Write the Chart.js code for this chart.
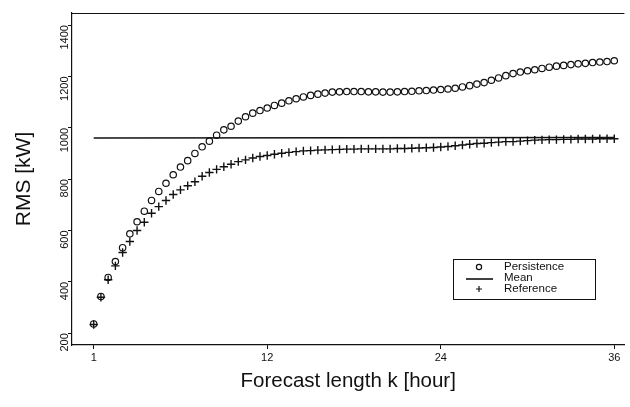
<!DOCTYPE html>
<html>
<head>
<meta charset="utf-8">
<script src="https://cdn.jsdelivr.net/npm/chart.js@4/dist/chart.umd.min.js"></script>
<style>
  html, body { margin: 0; padding: 0; background: #fff; }
  #wrap { width: 630px; height: 407px; }
</style>
</head>
<body>
<div id="wrap"><canvas id="rmsChart"></canvas></div>
<script>
// lag positions in hours, one point every half hour (first point labelled "1")
const lags = [];
for (let i = 0; i <= 72; i++) lags.push(i / 2);

const persistence = [
  236, 343, 417, 479, 533, 587, 634, 675, 717, 752,
  784, 817, 847, 872, 900, 926, 948, 971, 992, 1006,
  1026, 1043, 1057, 1067, 1077, 1087, 1096, 1105, 1113, 1120,
  1126, 1131, 1135, 1139, 1140, 1141, 1141, 1141, 1140, 1140,
  1139, 1139, 1140, 1141, 1142, 1144, 1145, 1147, 1149, 1151,
  1154, 1159, 1164, 1170, 1176, 1185, 1194, 1203, 1211, 1217,
  1222, 1226, 1231, 1236, 1240, 1243, 1246, 1249, 1251, 1254,
  1256, 1258, 1261
];

const reference = [
  234, 340, 408, 462, 514, 557, 600, 632, 667, 693,
  717, 740, 758, 774, 790, 811, 826, 838, 848, 858,
  868, 875, 882, 888, 892, 897, 901, 904, 907, 910,
  911, 913, 914, 915, 916, 917, 917, 918, 918, 918,
  918, 918, 919, 919, 920, 921, 922, 923, 925, 927,
  930, 933, 936, 939, 940, 942, 944, 946, 946, 948,
  950, 952, 953, 954, 954, 955, 955, 956, 956, 956,
  957, 957, 957
];

const meanLags = [0, 36];
const meanValues = [960, 962];

const xTicks = [0, 12, 24, 36];
const xTickLabels = ['1', '12', '24', '36'];
const yTicks = [200, 400, 600, 800, 1000, 1200, 1400];

const FONT = 'Liberation Sans, Arial, Helvetica, sans-serif';

const toPoints = (xs, ys) => xs.map((x, i) => ({ x: x, y: ys[i] }));

// top frame line and the boxed legend inside the plot
const framePlugin = {
  id: 'frame',
  afterDraw(chart) {
    const { ctx, chartArea } = chart;
    ctx.save();
    ctx.strokeStyle = '#111';
    ctx.lineWidth = 1.2;
    ctx.beginPath();
    ctx.moveTo(chartArea.left, chartArea.top + 0.5);
    ctx.lineTo(chartArea.right, chartArea.top + 0.5);
    ctx.stroke();

    // legend box
    const bx = chartArea.left + 381, by = chartArea.top + 246;
    const bw = 142, bh = 40;
    ctx.lineWidth = 1;
    ctx.strokeRect(bx + 0.5, by + 0.5, bw, bh);

    const names = ['Persistence', 'Mean', 'Reference'];
    const rows = [by + 8, by + 19, by + 30];
    const sx = bx + 26;
    ctx.font = '11.5px ' + FONT;
    ctx.fillStyle = '#111';
    ctx.textBaseline = 'middle';
    names.forEach((n, i) => ctx.fillText(n, bx + 51, rows[i]));

    ctx.lineWidth = 1.2;
    ctx.beginPath();
    ctx.arc(sx, rows[0], 2.6, 0, Math.PI * 2);
    ctx.stroke();
    ctx.lineWidth = 1.6;
    ctx.beginPath();
    ctx.moveTo(sx - 13, rows[1] + 1);
    ctx.lineTo(sx + 14, rows[1] + 1);
    ctx.stroke();
    ctx.lineWidth = 1.2;
    ctx.beginPath();
    ctx.moveTo(sx - 3, rows[2]);
    ctx.lineTo(sx + 3, rows[2]);
    ctx.moveTo(sx, rows[2] - 3);
    ctx.lineTo(sx, rows[2] + 3);
    ctx.stroke();
    ctx.restore();
  }
};

new Chart(document.getElementById('rmsChart'), {
  type: 'line',
  data: {
    datasets: [
      {
        label: 'Persistence',
        data: toPoints(lags, persistence),
        showLine: false,
        pointStyle: 'circle',
        pointRadius: 3.2,
        pointBorderWidth: 1.2,
        pointBorderColor: '#111',
        pointBackgroundColor: 'rgba(0,0,0,0)'
      },
      {
        label: 'Mean',
        data: toPoints(meanLags, meanValues),
        borderColor: '#111',
        borderWidth: 1.6,
        pointRadius: 0,
        fill: false
      },
      {
        label: 'Reference',
        data: toPoints(lags, reference),
        showLine: false,
        pointStyle: 'cross',
        pointRadius: 4.2,
        pointBorderWidth: 1.4,
        pointBorderColor: '#111'
      }
    ]
  },
  options: {
    responsive: true,
    maintainAspectRatio: false,
    animation: false,
    layout: { padding: { top: 13, right: 0, left: 12, bottom: 0 } },
    plugins: {
      legend: { display: false },
      tooltip: { enabled: false }
    },
    scales: {
      x: {
        type: 'linear',
        min: -1.5,
        max: 36.7,
        afterBuildTicks(scale) {
          scale.ticks = xTicks.map(v => ({ value: v }));
        },
        afterFit(scale) { scale.height = 62; },
        ticks: {
          color: '#111',
          font: { family: FONT, size: 11 },
          padding: 2,
          maxRotation: 0,
          callback(value) {
            const i = xTicks.indexOf(value);
            return i >= 0 ? xTickLabels[i] : '';
          }
        },
        grid: { display: true, drawOnChartArea: false, drawTicks: true, tickLength: 4, color: '#111' },
        border: { display: true, color: '#111', width: 1.2 },
        title: {
          display: true,
          text: 'Forecast length k [hour]',
          color: '#111',
          font: { family: FONT, size: 20.5 },
          padding: { top: 0, bottom: 13 }
        }
      },
      y: {
        min: 154,
        max: 1447,
        afterBuildTicks(scale) {
          scale.ticks = yTicks.map(v => ({ value: v }));
        },
        afterFit(scale) { scale.width = 60; },
        ticks: {
          color: '#111',
          font: { family: FONT, size: 11 },
          minRotation: 90,
          maxRotation: 90,
          padding: 3,
          callback: value => String(value)
        },
        grid: { display: true, drawOnChartArea: false, drawTicks: true, tickLength: 4, color: '#111' },
        border: { display: true, color: '#111', width: 1.2 },
        title: {
          display: true,
          text: 'RMS [kW]',
          color: '#111',
          font: { family: FONT, size: 21 },
          padding: { top: 0, bottom: 0 }
        }
      }
    }
  },
  plugins: [framePlugin]
});
</script>
</body>
</html>
